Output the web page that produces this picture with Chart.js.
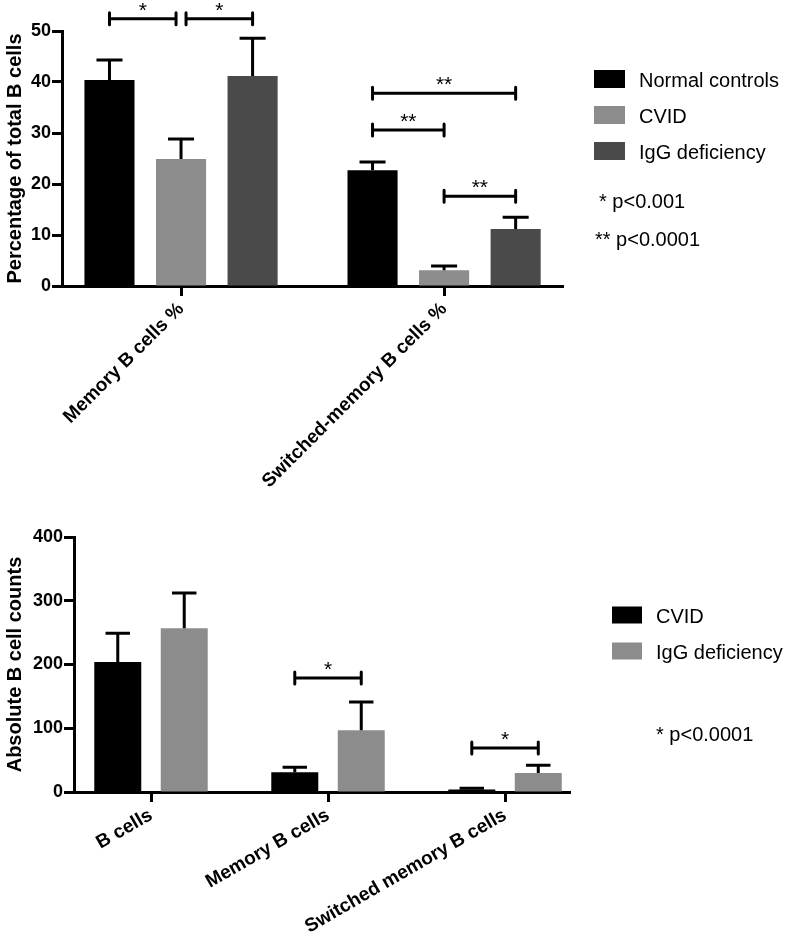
<!DOCTYPE html>
<html><head><meta charset="utf-8">
<script src="https://cdn.jsdelivr.net/npm/chart.js@4.4.1/dist/chart.umd.min.js"></script>
<style>
html,body{margin:0;padding:0;background:#fff;}
body{width:788px;height:939px;position:relative;overflow:hidden;font-family:"Liberation Sans",Arial,Helvetica,sans-serif;}
#topWrap{position:absolute;left:0;top:0;width:788px;height:500px;}
#botWrap{position:absolute;left:0;top:500px;width:788px;height:439px;}
.leg{position:absolute;font-size:20px;line-height:24px;color:#000;white-space:nowrap;transform:translateY(-50%);}
.sw{position:absolute;transform:translateY(-50%);}
</style></head><body>
<div id="topWrap"><canvas id="c1"></canvas></div>
<div id="botWrap"><canvas id="c2"></canvas></div>
<div id="legends"></div>
<script>
// ---------- Top chart data ----------
const topCategories = ['Memory B cells %', 'Switched-memory B cells %'];
const topSeries = ['Normal controls', 'CVID', 'IgG deficiency'];
const topNormal = [40.4, 22.7];
const topCVID = [24.9, 3.1];
const topIgG = [41.2, 11.2];
const topNormalErr = [3.9, 1.6];
const topCVIDErr = [3.9, 0.8];
const topIgGErr = [7.4, 2.3];
const topYTicks = [0, 10, 20, 30, 40, 50];
const topYTitle = 'Percentage of total B cells';
const topNotes = ['* p<0.001', '** p<0.0001'];
// significance brackets: category index, series from/to, bracket height (value), label
const topBrackets = [
  {cat: 0, from: 0, to: 1, y: 52.4, label: '*'},
  {cat: 0, from: 1, to: 2, y: 52.4, label: '*'},
  {cat: 1, from: 0, to: 2, y: 37.8, label: '**'},
  {cat: 1, from: 0, to: 1, y: 30.6, label: '**'},
  {cat: 1, from: 1, to: 2, y: 17.6, label: '**'}
];

// ---------- Bottom chart data ----------
const botCategories = ['B cells', 'Memory B cells', 'Switched memory B cells'];
const botSeries = ['CVID', 'IgG deficiency'];
const botCVID = [204, 31, 4];
const botIgG = [257, 97, 30];
const botCVIDErr = [45, 8, 2];
const botIgGErr = [55, 44, 12];
const botYTicks = [0, 100, 200, 300, 400];
const botYTitle = 'Absolute B cell counts';
const botNotes = ['* p<0.0001'];
const botBrackets = [
  {cat: 1, from: 0, to: 1, y: 179, label: '*'},
  {cat: 2, from: 0, to: 1, y: 69, label: '*'}
];

// ---------- styles ----------
const FONT = "'Liberation Sans', Arial, Helvetica, sans-serif";
const topColors = ['#000000', '#8c8c8c', '#4a4a4a'];
const botColors = ['#000000', '#8c8c8c'];

const errorBarPlugin = {
  id: 'errorBars',
  afterDatasetsDraw(chart) {
    const ctx = chart.ctx, ys = chart.scales.y;
    chart.data.datasets.forEach((ds, di) => {
      const meta = chart.getDatasetMeta(di);
      meta.data.forEach((bar, i) => {
        const top = ys.getPixelForValue(ds.data[i].y + ds.errUp[i]);
        const half = bar.width * 0.26;
        ctx.save();
        ctx.strokeStyle = '#000'; ctx.lineWidth = 3; ctx.lineCap = 'butt';
        ctx.beginPath();
        ctx.moveTo(bar.x, bar.y); ctx.lineTo(bar.x, top);
        ctx.moveTo(bar.x - half, top); ctx.lineTo(bar.x + half, top);
        ctx.stroke();
        ctx.restore();
      });
    });
  }
};

const bracketPlugin = {
  id: 'brackets',
  afterDraw(chart, args, opts) {
    const ctx = chart.ctx, ys = chart.scales.y;
    const items = opts.items || [];
    items.forEach(b => {
      let x1 = chart.getDatasetMeta(b.from).data[b.cat].x;
      let x2 = chart.getDatasetMeta(b.to).data[b.cat].x;
      items.forEach(o => {
        if (o === b || o.cat !== b.cat || o.y !== b.y) return;
        if (o.to === b.from) x1 += 5;
        if (o.from === b.to) x2 -= 5;
      });
      const py = ys.getPixelForValue(b.y);
      ctx.save();
      ctx.strokeStyle = '#000'; ctx.lineWidth = 3; ctx.lineCap = 'round';
      ctx.beginPath();
      ctx.moveTo(x1, py); ctx.lineTo(x2, py);
      ctx.moveTo(x1, py - 6); ctx.lineTo(x1, py + 6);
      ctx.moveTo(x2, py - 6); ctx.lineTo(x2, py + 6);
      ctx.stroke();
      ctx.fillStyle = '#000';
      ctx.font = '21px ' + FONT;
      ctx.textAlign = 'center'; ctx.textBaseline = 'alphabetic';
      ctx.fillText(b.label, (x1 + x2) / 2, py - 2);
      ctx.restore();
    });
  }
};

function makeChart(id, cfg) {
  const datasets = cfg.series.map((name, s) => ({
    label: name,
    data: cfg.values[s].map((v, i) => ({x: i, y: v})),
    errUp: cfg.errors[s],
    backgroundColor: cfg.colors[s],
    borderWidth: 0,
    barPercentage: cfg.barPct,
    categoryPercentage: cfg.catPct
  }));
  return new Chart(document.getElementById(id), {
    type: 'bar',
    data: {datasets},
    options: {
      responsive: true, maintainAspectRatio: false, animation: false,
      layout: {padding: cfg.padding},
      plugins: {legend: {display: false}, tooltip: {enabled: false}, brackets: {items: cfg.brackets}},
      scales: {
        x: {
          type: 'linear', min: cfg.xMin, max: cfg.xMax, offset: false, bounds: 'data',
          afterBuildTicks: s => { s.ticks = cfg.categories.map((c, i) => ({value: i})); },
          afterFit: s => { s.height = cfg.xHeight; },
          ticks: {
            callback: v => cfg.categories[v], autoSkip: false,
            minRotation: cfg.rot, maxRotation: cfg.rot,
            font: {family: FONT, size: 19, weight: 'bold'}, color: '#000', padding: 2
          },
          grid: {display: true, offset: false, drawOnChartArea: false, drawTicks: true, tickLength: 10, tickWidth: 3, tickColor: '#000'},
          border: {display: true, width: 3, color: '#000'}
        },
        y: {
          min: 0, max: cfg.yTicks[cfg.yTicks.length - 1],
          afterBuildTicks: s => { s.ticks = cfg.yTicks.map(v => ({value: v})); },
          afterFit: s => { s.width = cfg.yWidth; },
          ticks: {font: {family: FONT, size: 18, weight: 'bold'}, color: '#000', padding: 1},
          grid: {display: true, drawOnChartArea: false, drawTicks: true, tickLength: 10, tickWidth: 3, tickColor: '#000'},
          border: {display: true, width: 3, color: '#000'},
          title: {display: true, text: cfg.yTitle, color: '#000', font: {family: FONT, size: 20, weight: 'bold'}, padding: {top: 3, bottom: 0}}
        }
      }
    },
    plugins: [errorBarPlugin, bracketPlugin]
  });
}

makeChart('c1', {
  categories: topCategories, series: topSeries,
  values: [topNormal, topCVID, topIgG], errors: [topNormalErr, topCVIDErr, topIgGErr],
  colors: topColors, yTicks: topYTicks, yTitle: topYTitle, brackets: topBrackets,
  barPct: 0.7, catPct: 0.816, rot: 45,
  xMin: -0.4525, xMax: 1.452,
  padding: {left: 0, top: 31, right: 225, bottom: 0}, yWidth: 62, xHeight: 214
});

makeChart('c2', {
  categories: botCategories, series: botSeries,
  values: [botCVID, botIgG], errors: [botCVIDErr, botIgGErr],
  colors: botColors, yTicks: botYTicks, yTitle: botYTitle, brackets: botBrackets,
  barPct: 0.707, catPct: 0.751, rot: 30,
  xMin: -0.435, xMax: 2.367,
  padding: {left: 0, top: 37, right: 218, bottom: 0}, yWidth: 74, xHeight: 147
});

// ---------- HTML legends ----------
const L = document.getElementById('legends');
function addSwatch(x, y, w, h, color) {
  const d = document.createElement('div'); d.className = 'sw';
  d.style.left = x + 'px'; d.style.top = y + 'px'; d.style.width = w + 'px'; d.style.height = h + 'px';
  d.style.background = color; L.appendChild(d);
}
function addText(x, y, t) {
  const d = document.createElement('div'); d.className = 'leg';
  d.style.left = x + 'px'; d.style.top = y + 'px'; d.textContent = t; L.appendChild(d);
}
topSeries.forEach((s, i) => { addSwatch(594, 79 + 36 * i, 31, 18, topColors[i]); addText(639, 80 + 36 * i, s); });
topNotes.forEach((t, i) => addText(i === 0 ? 599 : 595, 201 + 38 * i, t));
botSeries.forEach((s, i) => { addSwatch(612, 615 + 36 * i, 30, 17, botColors[i]); addText(656, 616 + 36 * i, s); });
botNotes.forEach((t) => addText(656, 734, t));
</script>
</body></html>
